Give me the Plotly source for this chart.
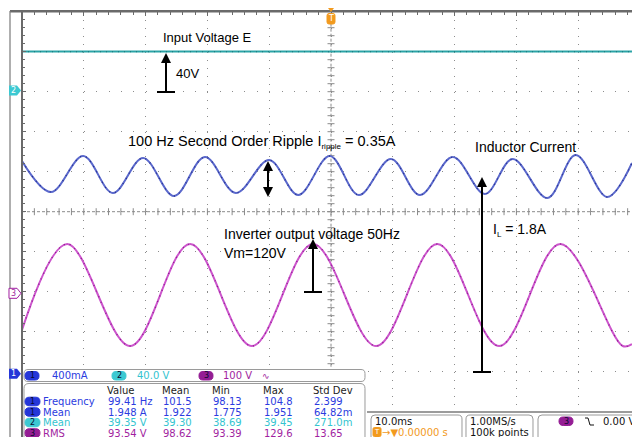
import plotly.graph_objects as go
import numpy as np

W, H = 632, 437

# ---------------- acquisition settings ----------------
TIME_PER_DIV = 10.0          # ms / div
CH1_SCALE = 0.4              # A / div   (inductor current)
CH2_SCALE = 40.0             # V / div   (input voltage)
CH3_SCALE = 100.0            # V / div   (inverter output)
CH1_POS = -4.05              # channel offsets, in divisions
CH2_POS = 3.02
CH3_POS = -2.04

# ---------------- waveforms (turning points, ms / physical units) ----------------
ch1_t = [-50.0, -45.3, -40.1, -35.3, -30.4, -25.4, -20.4, -15.4, -10.0, -5.3, -0.2,
         4.5, 9.7, 14.4, 19.7, 24.9, 29.4, 35.0, 39.6, 44.7, 48.7]
ch1_amp = [2.127, 1.817, 2.177, 1.807, 2.157, 1.777, 2.167, 1.807, 2.137, 1.787, 2.177,
           1.787, 2.147, 1.787, 2.167, 1.797, 2.147, 1.757, 2.187, 1.767, 2.107]

ch2_t = [-50.0, 48.7]
ch2_volt = [39.3, 39.3]

ch3_t = [-50.0, -42.7, -32.5, -22.8, -12.8, -2.9, 7.3, 17.2, 27.2, 37.1, 47.2, 48.7]
ch3_volt = [-91.8, 123.3, -131.8, 123.3, -131.8, 123.3, -131.8, 123.3, -131.8, 123.3,
            -131.8, -126.8]

# ---------------- readouts ----------------
scale_chan = ["1", "2", "3"]
scale_text = ["400mA", "40.0 V", "100 V"]
meas_header = ["Value", "Mean", "Min", "Max", "Std Dev"]
meas_chan = ["1", "1", "2", "3"]
meas_name = ["Frequency", "Mean", "Mean", "RMS"]
meas_value = [["99.41 Hz", "101.5", "98.13", "104.8", "2.399"],
              ["1.948 A", "1.922", "1.775", "1.951", "64.82m"],
              ["39.35 V", "39.30", "38.69", "39.45", "271.0m"],
              ["93.54 V", "98.62", "93.39", "129.6", "13.65"]]
timebase_text = "10.0ms"
trig_pos_text = "\u2192\u25bc0.00000 s"
rate_text = ["1.00MS/s", "100k points"]
trig_level_text = "0.00 V"

# ---------------- colours ----------------
COL = {"1": "#5a68cc", "2": "#2aa3a6", "3": "#cc55cc"}
DARK = {"1": "#27308c", "2": "#1d7f82", "3": "#8e1a8e"}
TXT = {"1": "#2b3be0", "2": "#33c4d0", "3": "#a11fa0"}
PILL = {"1": "#2536d8", "2": "#3cc9d2", "3": "#941d94"}
GRID = "#8c8c8c"
FRAME = "#6a6a6a"
ORANGE = "#f29a1e"

# screen geometry (pixels)
X0, XC, PX_DIV = 22.0, 331.0, 61.8
Y_TOP, Y_BOT = 11.7, 411.7
x_lo = -5 * TIME_PER_DIV
x_hi = x_lo + (W - X0) / PX_DIV * TIME_PER_DIV


def px(x):
    return x / W


def py(y):
    return 1 - y / H


def to_div(vals, scale, pos):
    return [v / scale + pos for v in vals]


fig = go.Figure()

# centre cross-hair tick marks
minor_x = np.arange(-50, x_hi, 2.0)
minor_y = np.arange(-5, 5.001, 0.2)
fig.add_trace(go.Scatter(x=minor_x, y=np.zeros_like(minor_x), mode="markers",
                         marker=dict(symbol="line-ns", size=5, line=dict(width=1, color=GRID)),
                         hoverinfo="skip", cliponaxis=False))
fig.add_trace(go.Scatter(x=np.zeros_like(minor_y), y=minor_y, mode="markers",
                         marker=dict(symbol="line-ew", size=5, line=dict(width=1, color=GRID)),
                         hoverinfo="skip", cliponaxis=False))


def add_channel(t, vals, scale, pos, ch, shape):
    y = to_div(vals, scale, pos)
    fig.add_trace(go.Scatter(x=t, y=y, mode="lines", hoverinfo="skip",
                             line=dict(color=COL[ch], width=2, shape=shape)))
    # darker intensity speckle along the trace
    fig.add_trace(go.Scatter(x=t, y=y, mode="lines", hoverinfo="skip",
                             line=dict(color=DARK[ch], width=1.3, shape=shape, dash="1px,5px")))


add_channel(ch2_t, ch2_volt, CH2_SCALE, CH2_POS, "2", "linear")
add_channel(ch1_t, ch1_amp, CH1_SCALE, CH1_POS, "1", "spline")
add_channel(ch3_t, ch3_volt, CH3_SCALE, CH3_POS, "3", "spline")

shapes = []
annotations = []


def line(x0, y0, x1, y1, color="black", width=2, dash=None, layer="above"):
    d = dict(type="line", xref="paper", yref="paper", x0=px(x0), y0=py(y0), x1=px(x1), y1=py(y1),
             line=dict(color=color, width=width), layer=layer)
    if dash:
        d["line"]["dash"] = dash
    shapes.append(d)


def poly(points, fill, color=None, width=0):
    p = "M" + "L".join(f"{px(x):.5f},{py(y):.5f}" for x, y in points) + "Z"
    shapes.append(dict(type="path", xref="paper", yref="paper", path=p, fillcolor=fill,
                       line=dict(color=color or fill, width=width), layer="above"))


def rrect(x0, y0, x1, y1, r, fill=None, color="#9a9a9a", width=1):
    pts = [("M", x0 + r, y0), ("L", x1 - r, y0), ("Q", x1, y0, x1, y0 + r), ("L", x1, y1 - r),
           ("Q", x1, y1, x1 - r, y1), ("L", x0 + r, y1), ("Q", x0, y1, x0, y1 - r),
           ("L", x0, y0 + r), ("Q", x0, y0, x0 + r, y0)]
    p = ""
    for seg in pts:
        cmd, coords = seg[0], seg[1:]
        p += cmd + " ".join(f"{px(coords[i]):.5f},{py(coords[i + 1]):.5f}" for i in range(0, len(coords), 2))
    p += "Z"
    shapes.append(dict(type="path", xref="paper", yref="paper", path=p,
                       fillcolor=fill if fill else "rgba(0,0,0,0)",
                       line=dict(color=color, width=width), layer="above"))


def text(x, y, s, size=14, color="black", family="Liberation Sans, Arial, sans-serif",
         anchor="left"):
    annotations.append(dict(x=px(x), y=py(y), xref="paper", yref="paper", text=s, showarrow=False,
                            xanchor=anchor, yanchor="middle", borderpad=0, borderwidth=0,
                            font=dict(size=size, color=color, family=family)))


def arrow_up(x, tip, tail, bar=True):
    line(x, tail, x, tip + 8)
    poly([(x - 5, tip + 10), (x + 5, tip + 10), (x, tip)], "black")
    if bar:
        line(x - 9, tail, x + 9, tail)


# centre cross-hair (dashed)
shapes.append(dict(type="line", xref="x", yref="y", x0=x_lo, x1=x_hi, y0=0, y1=0,
                   line=dict(color=GRID, width=1, dash="3px,2px"), layer="below"))
shapes.append(dict(type="line", xref="x", yref="y", x0=0, x1=0, y0=-5, y1=5,
                   line=dict(color=GRID, width=1, dash="3px,2px"), layer="below"))

# screen frame
line(10, 11.2, W, 11.2, color=FRAME, width=2.5)
line(22, 11, 22, H, color=FRAME, width=2)
line(10, 11, 10, H, color="#7a7a7a", width=1.2)
line(365, 412, W, 412, color="#7a7a7a", width=1.5)

# annotation arrows
arrow_up(166, 53, 92)
arrow_up(482, 177, 372)
arrow_up(313, 239, 292)
line(268, 170, 268, 188)
poly([(263, 171), (273, 171), (268, 161)], "black")
poly([(263, 187), (273, 187), (268, 197)], "black")

# annotation text
text(163, 38, "Input Voltage E", size=13)
text(176, 73, "40V", size=13)
text(128, 142, "100 Hz Second Order Ripple I<sub><span style='font-size:8px'>ripple</span></sub> = 0.35A",
     size=14.5)
text(475, 147, "Inductor Current")
text(493, 230, "I<sub><span style='font-size:8px'>L</span></sub> = 1.8A")
text(224, 234, "Inverter output voltage 50Hz")
text(224, 253, "Vm=120V")

# channel ground markers on the left edge
for ch, yy in zip(["2", "3", "1"], [90.5, 293.3, 373.7]):
    pts = [(9, yy - 5), (17, yy - 5), (21, yy), (17, yy + 5), (9, yy + 5)]
    if ch == "3":
        poly(pts, "white", color=TXT["3"], width=1)
        text(13, yy, ch, size=8, color=TXT["3"], family="DejaVu Sans", anchor="center")
    else:
        poly(pts, PILL[ch])
        text(13, yy, ch, size=8, color="white", family="DejaVu Sans", anchor="center")

# trigger position marker
poly([(328, 8), (334, 8), (331, 12)], ORANGE)
rrect(327, 13.5, 335, 24, 2, fill=ORANGE, color=ORANGE)
text(331, 19, "T", size=8, color="white", family="DejaVu Sans", anchor="center")

# measurement panel
shapes.append(dict(type="rect", xref="paper", yref="paper", x0=px(23), x1=px(367),
                   y0=py(H + 5), y1=py(367), fillcolor="white", line=dict(width=0), layer="above"))
rrect(24, 369.5, 365, 381.5, 4)
rrect(24, 383.5, 365, 450, 5)

MF = "DejaVu Sans, sans-serif"
for ch, s, xp, xt in zip(scale_chan, scale_text, [25, 112, 199], [52, 137, 223]):
    rrect(xp, 371.5, xp + 14, 380, 4, fill=PILL[ch], color=PILL[ch])
    text(xp + 7, 375.7, ch, size=8, color="#0a0a30", family=MF, anchor="center")
    text(xt, 375.7, s, size=10, color=TXT[ch], family=MF)
text(262, 375.7, "\u223f", size=9, color=TXT["3"], family=MF)

col_x = [107, 162, 212, 263, 313]
for s, xx in zip(meas_header, col_x):
    text(xx, 390.5, s, size=10, color="#222222", family=MF)
for ch, name, vals, yy in zip(meas_chan, meas_name, meas_value, [401.5, 412, 422.5, 433]):
    rrect(25, yy - 4.3, 40, yy + 4.3, 4.3, fill=PILL[ch], color=PILL[ch])
    text(32.5, yy, ch, size=8, color="#0a0a30", family=MF, anchor="center")
    text(43, yy, name, size=10, color=TXT[ch], family=MF)
    for s, xx in zip(vals, col_x):
        text(xx + 1, yy, s, size=10, color=TXT[ch], family=MF)

# timebase / acquisition / trigger readouts
rrect(371, 415, 462, 450, 4)
rrect(466, 415, 533, 450, 4)
rrect(538, 415, 680, 450, 4)
text(375, 421.5, timebase_text, size=10, color="#111111", family=MF)
rrect(373, 427.5, 381, 436.5, 1.5, fill=ORANGE, color=ORANGE)
text(377, 432, "T", size=7, color="white", family=MF, anchor="center")
text(382, 432, trig_pos_text, size=10, color=ORANGE, family=MF)
text(470, 421.5, rate_text[0], size=10, color="#111111", family=MF)
text(470, 432, rate_text[1], size=10, color="#111111", family=MF)
rrect(559, 417, 573, 425.5, 4.2, fill=PILL["3"], color=PILL["3"])
text(566, 421.3, "3", size=8, color="#0a0a30", family=MF, anchor="center")
shapes.append(dict(type="path", xref="paper", yref="paper",
                   path=f"M{px(585)},{py(418)}L{px(588)},{py(418)}L{px(590)},{py(425)}L{px(594)},{py(425)}",
                   line=dict(color="#111111", width=1), layer="above"))
text(603, 421.5, trig_level_text, size=10, color="#111111", family=MF)

fig.update_layout(
    width=W, height=H,
    margin=dict(l=0, r=0, t=0, b=0),
    paper_bgcolor="white", plot_bgcolor="white",
    showlegend=False, hovermode=False,
    shapes=shapes, annotations=annotations,
    xaxis=dict(range=[x_lo, x_hi], domain=[X0 / W, 1], side="top", showline=False,
               showticklabels=False, zeroline=False, fixedrange=True,
               tick0=0, dtick=TIME_PER_DIV, ticks="inside", ticklen=4, tickcolor=FRAME,
               showgrid=True, gridcolor=GRID, gridwidth=1, griddash="1px,7px",
               minor=dict(dtick=2, ticks="inside", ticklen=3, tickcolor=FRAME, showgrid=False)),
    yaxis=dict(range=[-5, 5], domain=[py(Y_BOT), py(Y_TOP)], showline=False,
               showticklabels=False, zeroline=False, fixedrange=True,
               tick0=0, dtick=1, ticks="inside", ticklen=4, tickcolor=FRAME,
               showgrid=True, gridcolor=GRID, gridwidth=1, griddash="1px,11.36px",
               minor=dict(dtick=0.2, ticks="inside", ticklen=3, tickcolor=FRAME, showgrid=False)),
)

fig.write_html("out.html")
